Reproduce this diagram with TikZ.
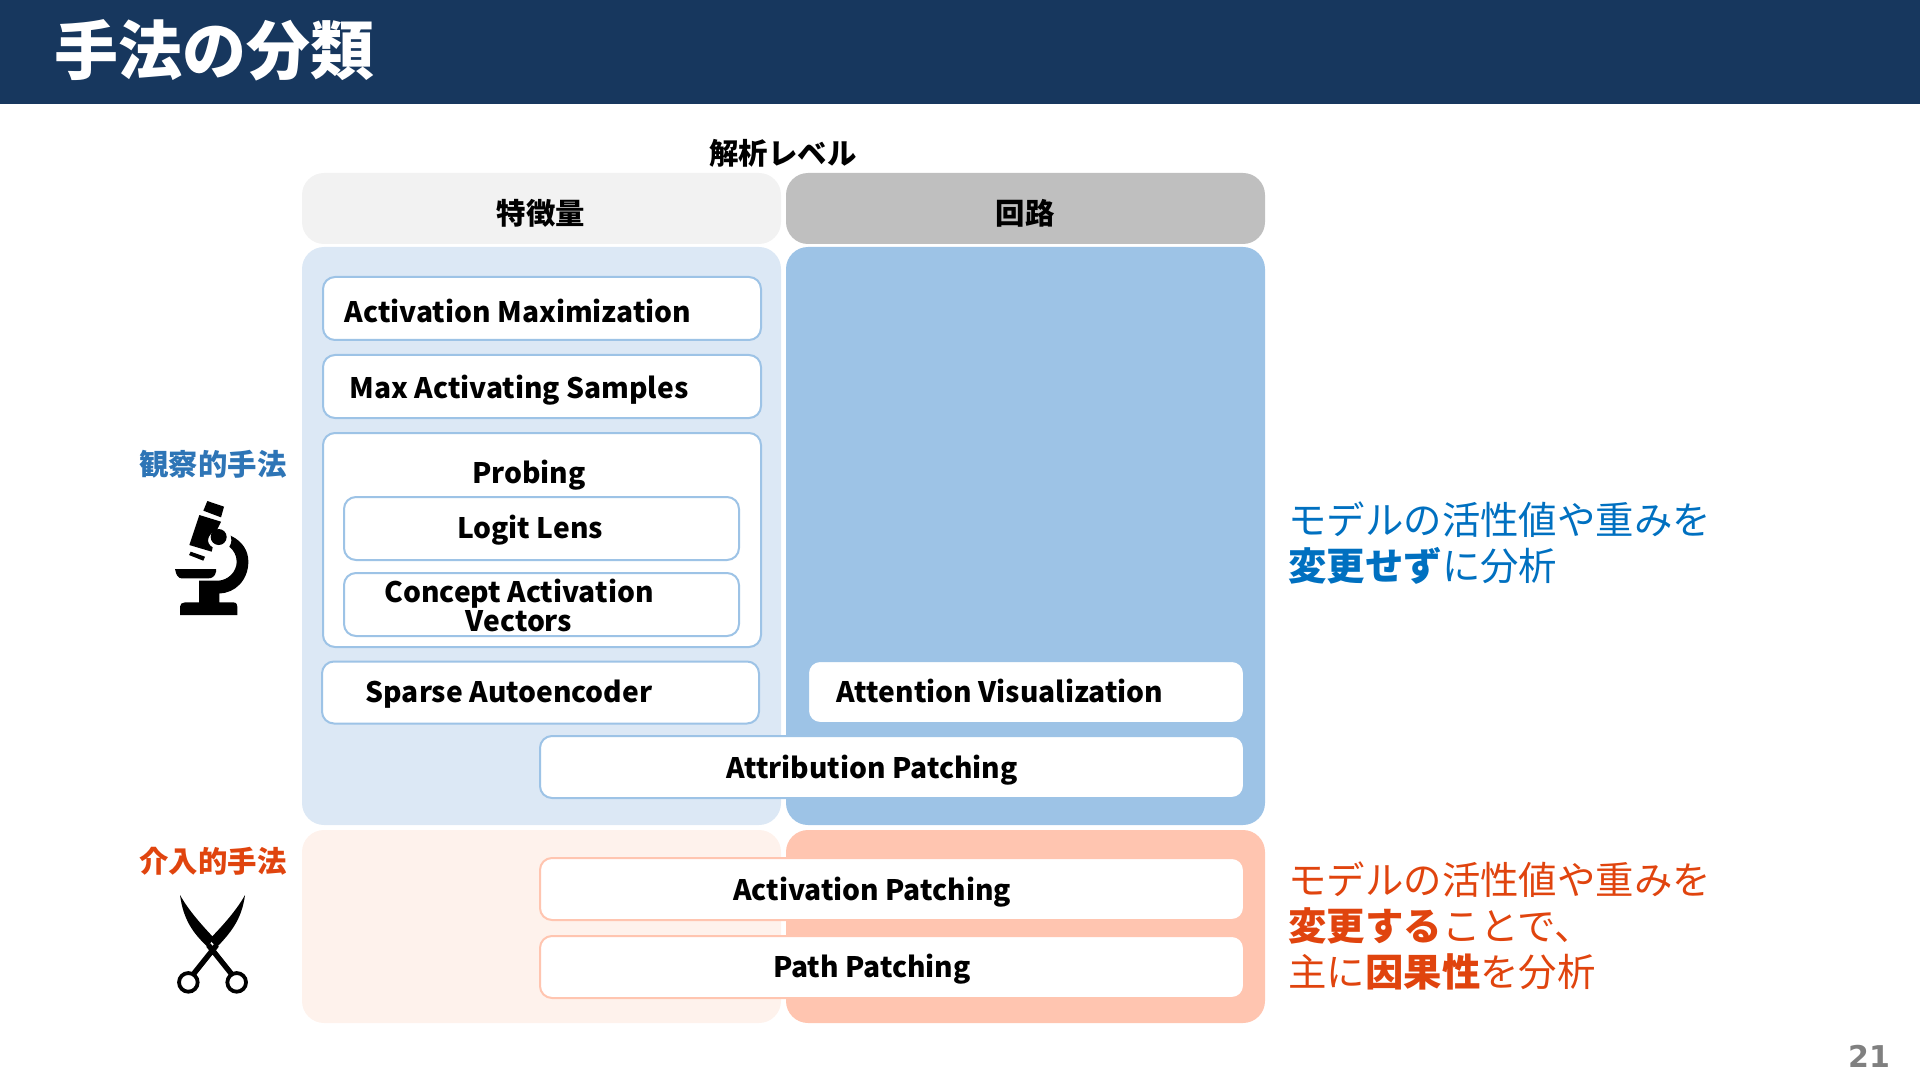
\documentclass[tikz,border=0pt]{standalone}
\usepackage{fontspec}
\setmainfont{Noto Sans CJK JP}
\newfontfamily\numfont{DejaVu Sans}
\usetikzlibrary{positioning}
\definecolor{navy}{RGB}{23,55,94}
\definecolor{sky}{RGB}{157,195,230}
\definecolor{skylight}{RGB}{220,232,245}
\definecolor{salmon}{RGB}{255,197,176}
\definecolor{salmonlight}{RGB}{254,242,236}
\definecolor{obsblue}{RGB}{46,117,182}
\definecolor{textblue}{RGB}{0,112,192}
\definecolor{textred}{RGB}{224,68,14}
\tikzset{
  panel/.style={rounded corners=11pt,minimum width=239.5pt,inner sep=0pt},
  methodbox/.style={draw=sky,line width=1pt,fill=white,rounded corners=6pt,inner sep=0pt},
  patchbox/.style={methodbox,draw=salmon},
  methodtext/.style={font=\fontsize{14.1}{14.1}\selectfont\bfseries,inner sep=0pt,text height=10.5pt,text depth=3pt},
  sidetext/.style={font=\fontsize{19.2}{23}\selectfont,inner sep=0pt,align=left,anchor=west},
  sidehead/.style={font=\fontsize{14.7}{14.7}\selectfont\bfseries,inner sep=0pt}
}
\begin{document}
\begin{tikzpicture}[x=0.5pt,y=-0.5pt]
  \useasboundingbox (0,0) rectangle (1920,1080);
  \fill[navy] (0,0) rectangle (1920,104);
  \node[font=\fontsize{32}{32}\selectfont\bfseries,text=white,anchor=west,inner sep=0pt] (title) at (54,50) {手法の分類};
  \node[sidehead] (level) at (783,153) {解析レベル};
  % column heads and panels
  \node[panel,fill=black!5,minimum height=35.5pt] (headfeat) at (541.5,208.5) {};
  \node[panel,fill=black!25,minimum height=35.5pt] (headcirc) at (1025.5,208.5) {};
  \node[sidehead] (headfeatt) at (541,213) {特徴量};
  \node[sidehead] (headcirct) at (1025,213) {回路};
  \node[panel,fill=skylight,minimum height=289pt] (obsfeat) at (541.5,536) {};
  \node[panel,fill=sky,minimum height=289pt] (obscirc) at (1025.5,536) {};
  \node[panel,fill=salmonlight,minimum height=96.5pt] (intfeat) at (541.5,926.5) {};
  \node[panel,fill=salmon,minimum height=96.5pt] (intcirc) at (1025.5,926.5) {};
  % method boxes
  \foreach \n/\x/\y/\w/\h in {amax/542/308.5/438/63,msam/542/386.5/438/63,prob/542/540/438/214,
    logit/541.5/528.5/395/63,cav/541.5/604.5/395/63,sae/540.5/692.5/437/62,attr/892/767/704/62,attn/1026/692/436/62}
    \node[methodbox,minimum width=\w*0.5pt,minimum height=\h*0.5pt] (\n) at (\x,\y) {};
  \foreach \n/\y in {apat/889,ppat/967}
    \node[patchbox,minimum width=352pt,minimum height=31pt] (\n) at (892,\y) {};
  \foreach \n/\x/\y/\t in {a/518/314.5/Activation Maximization,b/519/390.5/Max Activating Samples,
    c/529/475.5/Probing,d/530/530.5/Logit Lens,e/519/594.5/Concept Activation,f/519/623.5/Vectors,
    g/509/694.5/Sparse Autoencoder,h/1000/694.5/Attention Visualization,i/872/770.5/Attribution Patching,
    j/872/892.5/Activation Patching,k/872/969.5/Path Patching}
    \node[methodtext] (label\n) at (\x,\y) {\t};
  % left side
  \node[sidehead,text=obsblue] (obshead) at (213,464) {観察的手法};
  \node[sidehead,text=textred] (inthead) at (213,861) {介入的手法};
  \begin{scope}[shift={(120,440)},x=0.1667pt,y=-0.1667pt]
    \fill[black] (262,183) -- (312,200) -- (303,232) -- (250,212) -- cycle;
    \fill[black] (238,225) -- (303,245) -- (290,272) .. controls (262,280) and (255,310) .. (278,322) -- (275,335) -- (208,315) -- cycle;
    \fill[black] (212,335) -- (255,350) -- (250,362) -- (207,345) -- cycle;
    \fill[black] (296,291) circle (24);
    \fill[black] (332,287) .. controls (370,305) and (385,335) .. (385,365) .. controls (385,420) and (345,460) .. (298,460) -- (298,487) -- (340,487)
      .. controls (350,487) and (352,495) .. (352,500) -- (352,525) -- (180,525) -- (180,500) .. controls (180,492) and (186,487) .. (195,487)
      -- (237,487) -- (237,422) -- (295,422) .. controls (325,420) and (350,395) .. (350,365) .. controls (350,345) and (340,330) .. (328,320) .. controls (335,310) and (335,298) .. (332,287) -- cycle;
    \fill[black] (165,387) -- (288,387) -- (288,395) .. controls (285,410) and (275,415) .. (265,415) -- (185,415) .. controls (175,415) and (168,405) .. (165,387) -- cycle;
  \end{scope}
  \begin{scope}[shift={(120,830)},x=0.1667pt,y=-0.1667pt]
    \fill[black] (180,195) .. controls (205,240) and (245,285) .. (283,325) -- (262,350) .. controls (220,310) and (190,270) .. (180,195) -- cycle;
    \fill[black] (375,195) .. controls (365,270) and (330,310) .. (290,352) -- (268,328) .. controls (310,285) and (350,240) .. (375,195) -- cycle;
    \draw[black,line width=1.9pt] (205,457) circle (28) (350,457) circle (28);
    \draw[black,line width=2.7pt] (222,430) -- (290,345) (333,430) -- (265,345);
  \end{scope}
  % right side
  \node[sidetext,text=textblue] (obsnote) at (1288,543) {モデルの活性値や重みを\\{\bfseries 変更せず}に分析};
  \node[sidetext,text=textred] (intnote) at (1288,926) {モデルの活性値や重みを\\{\bfseries 変更する}ことで、\\主に{\bfseries 因果性}を分析};
  \node[font=\numfont\fontsize{15}{15}\selectfont\bfseries,text=black!50,inner sep=0pt] (pagenum) at (1869,1056) {21};
\end{tikzpicture}
\end{document}
